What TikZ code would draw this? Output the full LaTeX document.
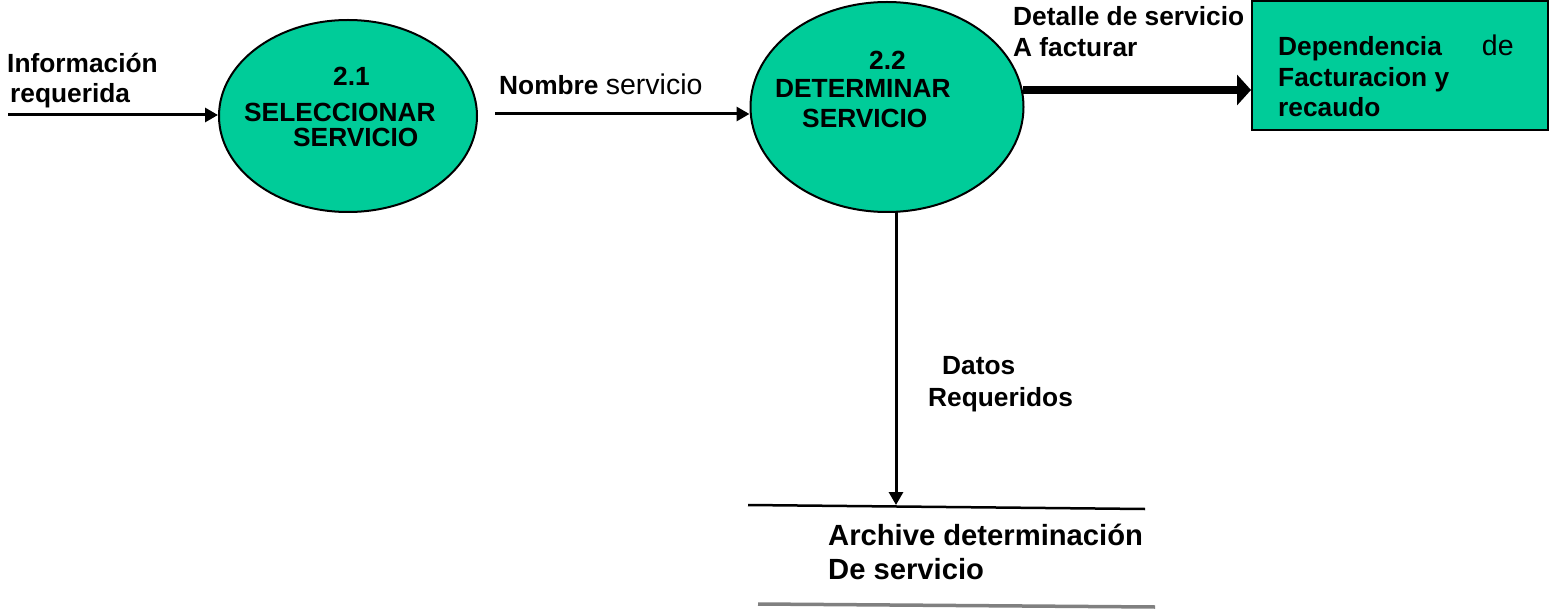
\documentclass[tikz,border=0pt]{standalone}
\usepackage{fontspec}
\setmainfont{Liberation Sans}
\usetikzlibrary{shapes.geometric,arrows.meta}
\definecolor{proc}{RGB}{0,204,153}
\newcommand\bt{\fontsize{26.3}{31}\selectfont\bfseries}
\newcommand\rt{\fontsize{28.5}{31}\selectfont\mdseries}
\tikzset{
  proc/.style={ellipse,draw=black,line width=2pt,fill=proc,inner sep=0pt},
  ext/.style={rectangle,draw=black,line width=2pt,fill=proc,inner sep=0pt},
  lbl/.style={anchor=base west,inner sep=0pt,font=\bt},
  flow/.style={line width=3pt,-{Triangle[length=13pt,width=14pt]}},
  bigflow/.style={line width=8pt,-{Triangle[length=14pt,width=30pt]}},
}
\begin{document}
\begin{tikzpicture}[x={(1pt,0)},y={(0,-1pt)}]
\useasboundingbox (0,0) rectangle (1552,612);
% processes
\node[proc,minimum width=258pt,minimum height=192pt] (p1) at (348,116) {};
\node[proc,minimum width=273pt,minimum height=210pt] (p2) at (887,107) {};
\node[ext,minimum width=296pt,minimum height=129pt] (ent) at (1400,66) {};
% coordinates
\coordinate (src) at (8,115);
\coordinate (c2) at (495,114);
\coordinate (c3) at (1023,90);
\coordinate (vt) at (896,212);
\coordinate (s1) at (748,505);
\coordinate (s2) at (1145,509);
\coordinate (s3) at (758,604);
\coordinate (s4) at (1155,607);
% store lines
\draw[line width=2.5pt] (s1) -- (s2);
\draw[line width=3.5pt,color=black!50] (s3) -- (s4);
% flows
\draw[flow] (src) -- (src -| p1.west);
\draw[flow] (c2) -- (c2 -| p2.west);
\draw[bigflow] (c3) -- (c3 -| ent.west);
\draw[flow] (vt) -- (vt |- s1);
% texts
\node[lbl] (t1) at (7,73) {Información};
\node[lbl] (t2) at (10,103) {requerida};
\node[lbl] (t3) at (333,86) {2.1};
\node[lbl] (t4) at (244,122) {SELECCIONAR};
\node[lbl] (t5) at (293,147) {SERVICIO};
\node[lbl] (t6) at (499,95) {Nombre {\rt servicio}};
\node[lbl] (t7) at (869,70) {2.2};
\node[lbl] (t8) at (775,98) {DETERMINAR};
\node[lbl] (t9) at (802,128) {SERVICIO};
\node[lbl] (t10) at (1013,26) {Detalle de servicio};
\node[lbl] (t11) at (1013,57) {A facturar};
\node[lbl] (t12) at (1278,56) {Dependencia\hspace{40pt}{\fontsize{28.5}{31}\selectfont\mdseries de}};
\node[lbl] (t13) at (1278,87) {Facturacion y};
\node[lbl] (t14) at (1278,117) {recaudo};
\node[lbl] (t15) at (942,374) {Datos};
\node[lbl] (t16) at (928,406) {Requeridos};
\node[lbl,font=\fontsize{29.2}{33}\selectfont\bfseries] (t17) at (828,545) {Archive determinación};
\node[lbl,font=\fontsize{29.2}{33}\selectfont\bfseries] (t18) at (828,579) {De servicio};
\end{tikzpicture}
\end{document}
